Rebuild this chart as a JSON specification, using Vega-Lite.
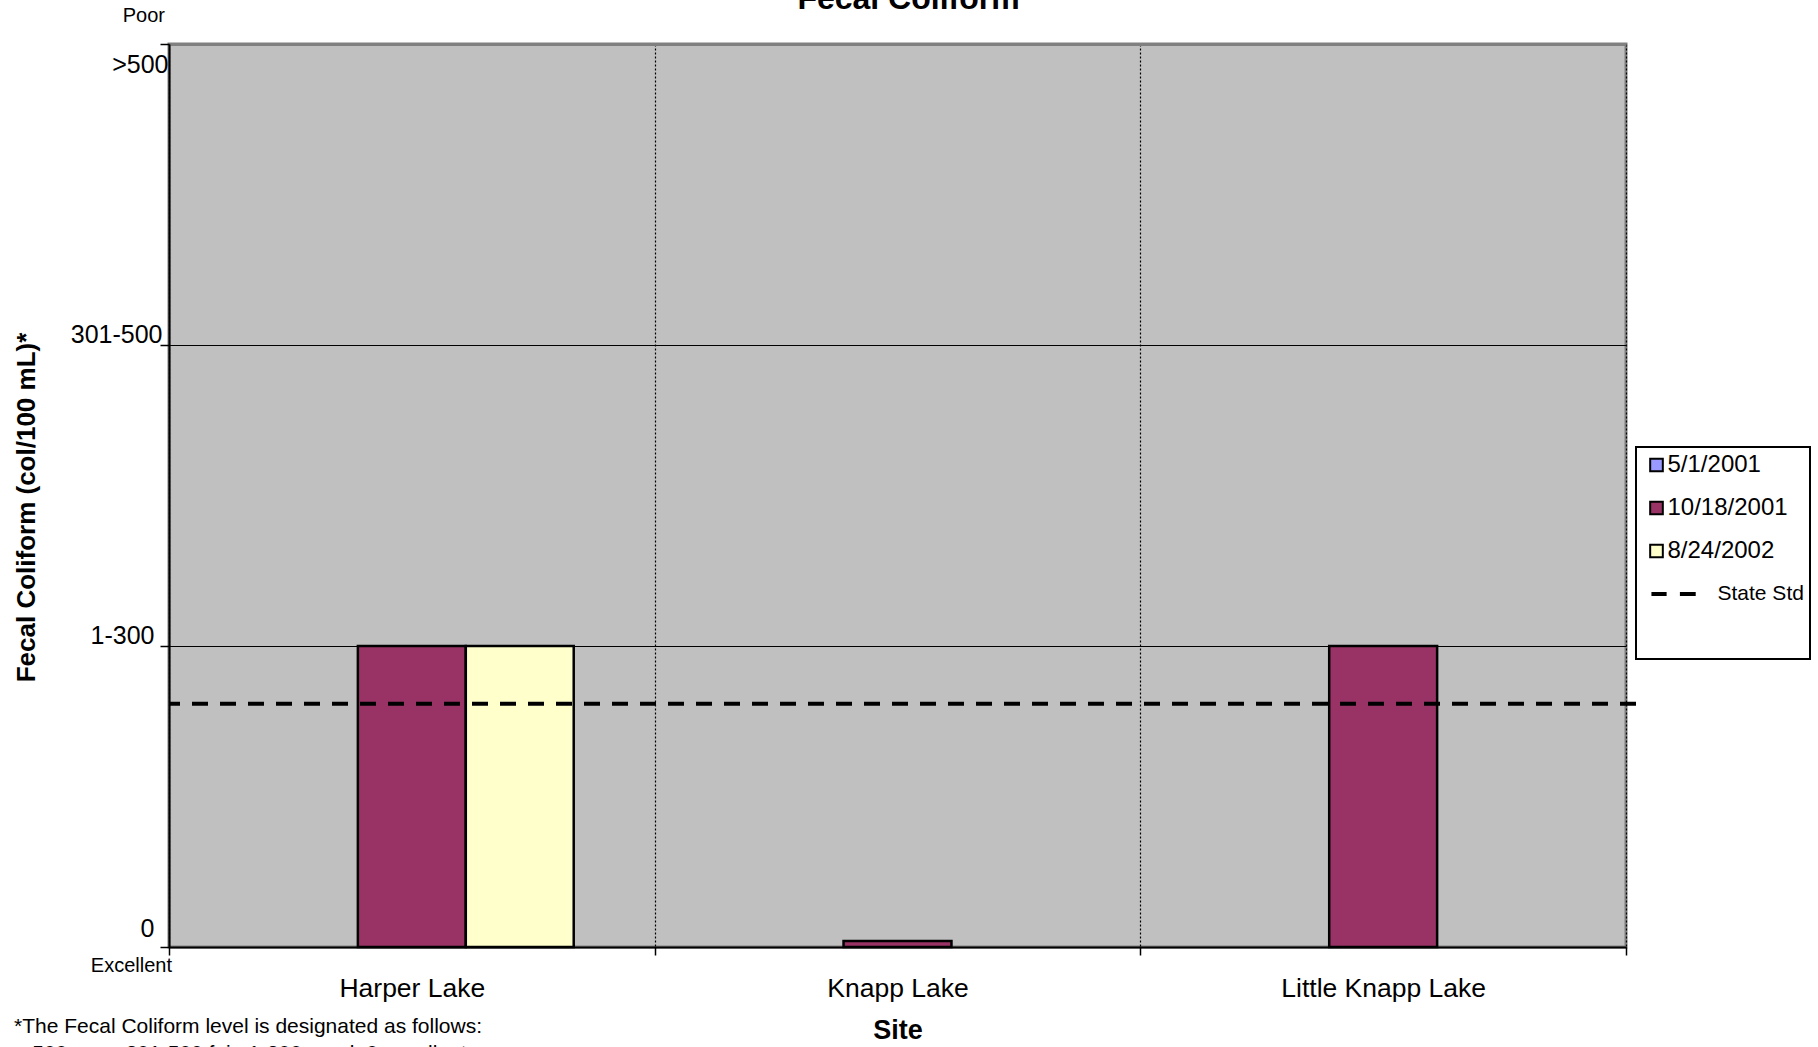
{
  "$schema": "https://vega.github.io/schema/vega-lite/v6.json",
  "width": 1457,
  "height": 903,
  "autosize": {"type": "none"},
  "padding": {"left": 169, "top": 44, "right": 192, "bottom": 100},
  "background": "white",
  "title": {"text": "Fecal Coliform", "fontSize": 32, "fontWeight": "bold", "font": "Liberation Sans", "color": "black", "anchor": "middle", "offset": -10, "dx": 11},
  "config": {
    "font": "Liberation Sans",
    "view": {"fill": "#C0C0C0", "stroke": "#808080", "strokeWidth": 3},
    "axis": {"labelColor": "black", "titleColor": "black", "domainColor": "black", "tickColor": "black", "labelFont": "Liberation Sans", "titleFont": "Liberation Sans"}
  },
  "layer": [
    {
      "data": {"values": [
        {"site": "Harper Lake", "date": "10/18/2001", "level": 1},
        {"site": "Harper Lake", "date": "8/24/2002", "level": 1},
        {"site": "Knapp Lake", "date": "10/18/2001", "level": 0.02},
        {"site": "Little Knapp Lake", "date": "10/18/2001", "level": 1}
      ]},
      "mark": {"type": "bar", "stroke": "black", "strokeWidth": 2.5},
      "encoding": {
        "x": {"field": "site", "type": "nominal", "sort": ["Harper Lake", "Knapp Lake", "Little Knapp Lake"],
          "scale": {"domain": ["Harper Lake", "Knapp Lake", "Little Knapp Lake"], "paddingInner": 0, "paddingOuter": 0},
          "axis": {"title": "Site", "titleFontSize": 27, "titleFontWeight": "bold", "titlePadding": 16, "labelFontSize": 26.5, "labelLimit": 500, "labelAngle": 0, "labelPadding": 20, "tickBand": "extent", "grid": true, "gridDash": [2, 2], "gridColor": "black", "gridWidth": 1.2, "tickSize": 8, "tickWidth": 1.5, "domainWidth": 2}},
        "xOffset": {"field": "date", "type": "nominal", "scale": {"domain": ["5/1/2001", "10/18/2001", "8/24/2002"], "paddingInner": 0, "paddingOuter": 0.75}},
        "y": {"field": "level", "type": "quantitative", "stack": null,
          "scale": {"domain": [0, 3], "nice": false, "zero": true},
          "axis": {"title": "Fecal Coliform (col/100 mL)*", "titleFontSize": 26, "titleFontWeight": "bold", "titleX": -143, "titleY": 463, "titleBaseline": "middle",
            "values": [0, 1, 2, 3],
            "labelExpr": "datum.value === 0 ? '0' : datum.value === 1 ? '1-300' : datum.value === 2 ? '301-500' : '>500'",
            "labelFontSize": 25,
            "labelOffset": {"condition": [{"test": "datum.value === 3", "value": 20}, {"test": "datum.value === 0", "value": -19}], "value": -11},
            "labelPadding": {"condition": [{"test": "datum.value === 3", "value": -8}, {"test": "datum.value === 2", "value": -2}], "value": 6},
            "grid": true,
            "gridColor": {"condition": {"test": "datum.value === 3", "value": "#808080"}, "value": "black"},
            "gridWidth": {"condition": {"test": "datum.value === 3", "value": 3}, "value": 1},
            "tickSize": 9, "tickWidth": 1.5, "domainWidth": 2}},
        "color": {"field": "date", "type": "nominal",
          "scale": {"domain": ["5/1/2001", "10/18/2001", "8/24/2002", "State Std"], "range": ["#9999FF", "#993366", "#FFFFCC", "#000000"]},
          "legend": {
            "title": "\u00a0", "titleOrient": "bottom", "titleFontSize": 24, "titlePadding": 25,
            "orient": "none", "legendX": 1467, "legendY": 403,
            "strokeColor": "black", "fillColor": "white", "padding": 6, "symbolOffset": 2.5,
            "symbolSize": 160, "symbolType": "square", "symbolStrokeColor": "black", "symbolStrokeWidth": 2,
            "labelFontSize": 24, "labelColor": "black", "labelOffset": -1, "rowPadding": 19,
            "encode": {
              "legend": {"update": {"strokeWidth": {"value": 2}}},
              "symbols": {"update": {
                "shape": {"signal": "datum.label === 'State Std' ? 'M-0.8,0H1.6M3.7,0H6.2' : 'square'"},
                "stroke": {"value": "black"},
                "strokeOpacity": {"value": 1},
                "strokeWidth": {"signal": "datum.label === 'State Std' ? 4 : 2"},
                "fill": {"signal": "datum.label === 'State Std' ? 'transparent' : scale('color', datum.value)"},
                "opacity": {"value": 1}
              }},
              "labels": {"update": {
                "dx": {"signal": "datum.label === 'State Std' ? 50 : 0"},
                "fontSize": {"signal": "datum.label === 'State Std' ? 21 : 24"}
              }}
            }
          }}
      }
    },
    {
      "data": {"values": [{}]},
      "mark": {"type": "rule", "color": "black", "strokeDash": [16, 12], "strokeWidth": 4, "xOffset": 10},
      "encoding": {
        "y": {"datum": 0.808, "type": "quantitative"}
      }
    },
    {
      "data": {"values": [{}]},
      "mark": {"type": "text", "text": "Poor", "fontSize": 20, "align": "right", "baseline": "middle", "dx": -4, "color": "black"},
      "encoding": {
        "x": {"datum": "Harper Lake", "type": "nominal", "bandPosition": 0},
        "y": {"datum": 3.093, "type": "quantitative"}
      }
    },
    {
      "data": {"values": [{}]},
      "mark": {"type": "text", "text": "Excellent", "fontSize": 20, "align": "right", "baseline": "middle", "dx": 3, "color": "black"},
      "encoding": {
        "x": {"datum": "Harper Lake", "type": "nominal", "bandPosition": 0},
        "y": {"datum": -0.063, "type": "quantitative"}
      }
    },
    {
      "data": {"values": [{}]},
      "mark": {"type": "text", "text": "*The Fecal Coliform level is designated as follows:", "fontSize": 21, "align": "left", "baseline": "middle", "dx": -155, "color": "black"},
      "encoding": {
        "x": {"datum": "Harper Lake", "type": "nominal", "bandPosition": 0},
        "y": {"datum": -0.266, "type": "quantitative"}
      }
    },
    {
      "data": {"values": [{}]},
      "mark": {"type": "text", "text": ">500 poor, 301-500 fair, 1-300 good, 0 excellent", "fontSize": 21, "align": "left", "baseline": "middle", "dx": -149, "color": "black"},
      "encoding": {
        "x": {"datum": "Harper Lake", "type": "nominal", "bandPosition": 0},
        "y": {"datum": -0.356, "type": "quantitative"}
      }
    }
  ]
}
